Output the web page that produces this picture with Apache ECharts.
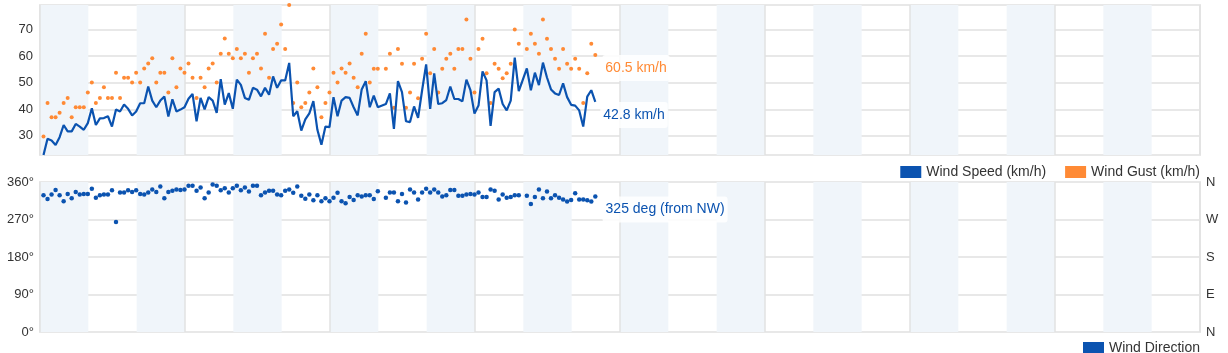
<!DOCTYPE html>
<html>
<head>
<meta charset="utf-8">
<script src="https://cdn.jsdelivr.net/npm/echarts@6/dist/echarts.min.js"></script>
<style>
  html, body { margin: 0; padding: 0; background: #fff; }
  #chart { width: 1228px; height: 353px; }
</style>
</head>
<body>
<div id="chart"></div>
<script>
// Wind readings every 40 minutes over the first part of an 8-day window.
// Gaps (null) are missing readings; the speed line bridges them.
const SPEED = [
  22.8, 28.9, 28.3, 26.6, 29.5, 34.1, 31.7, 31.7, 34.5, 33.5,
  32.3, 34.8, 40.4, 34.1, 36.6, 36.7, 37.4, 33.5, 39.9, 39.2,
  41.8, 40.2, 37.7, 39.2, 42.3, 42.3, 48.6, 43.3, 40.8, 43.3,
  44.8, 37.3, 43.8, 39.2, 39.9, 40.8, 44.0, 45.8, 35.5, 44.3,
  40.0, 44.6, 43.3, 38.7, 51.4, 41.8, 46.1, 40.2, 51.2, 49.2,
  44.3, 43.6, 48.1, 47.4, 44.9, 48.1, 45.5, 52.4, 48.1, 50.9,
  50.9, 57.5, 37.4, 39.3, 32.0, 36.2, 38.5, 43.1, 32.3, 26.7,
  33.5, 33.3, 44.6, 37.4, 43.3, 44.6, 44.3, 40.8, 37.7, 47.5,
  50.6, 40.8, 45.2, 40.8, null, 42.0, 46.0, 32.6, 50.6, 46.5,
  35.5, 35.2, 41.1, 36.8, 47.2, 56.9, 40.2, 53.5, 42.0, 42.3,
  43.5, 48.6, 43.9, 43.9, 43.0, 51.2, 47.2, 38.4, 41.4, 54.3,
  50.9, 33.8, 46.5, 47.8, 42.0, 39.6, 43.3, 59.5, 46.9, null,
  55.4, 47.2, 53.8, 49.1, 57.6, 52.0, 47.5, 46.0, 45.4, 49.8,
  44.6, 41.7, 41.4, 39.6, 33.5, 44.8, 47.2, 42.8
];
const GUST = [
  29.8, 42.4, 37.0, 37.0, 38.7, 42.4, 44.3, 37.0, 40.8, 40.8,
  40.8, 46.3, 50.1, 42.4, 44.3, 48.3, 44.3, 44.3, 53.8, 44.3,
  51.9, 51.9, 50.1, 53.8, 50.1, 55.4, 57.3, 59.2, 50.1, 53.8,
  53.8, 46.3, 59.2, 48.3, 55.4, 53.8, 57.3, 51.9, 44.3, 51.9,
  48.3, 55.4, 57.3, 50.1, 60.9, 66.7, 60.9, 59.2, 62.7, 59.2,
  60.9, 53.8, 59.2, 60.9, 55.4, 68.5, 51.9, 62.7, 64.7, 72.0,
  62.7, 79.3, 42.4, 50.1, 40.8, 42.4, 46.3, 55.4, 48.3, 37.0,
  42.4, 46.3, 53.8, 50.1, 55.4, 53.8, 57.3, 51.9, 48.3, 60.9,
  68.5, 50.1, 55.3, 55.3, null, 55.3, 60.9, 40.6, 62.7, 57.2,
  40.6, 46.3, 57.2, 44.2, 59.1, 68.5, 53.6, 62.7, 46.3, 55.3,
  59.1, 60.9, 55.3, 62.7, 62.7, 73.8, 59.1, 46.3, 62.7, 66.6,
  53.6, 42.4, 57.2, 55.3, 51.7, 53.6, 57.2, 70.1, 64.7, null,
  62.7, 68.5, 64.7, 60.9, 73.8, 66.6, 62.7, 59.1, 55.3, 62.7,
  57.2, 55.3, 59.1, 55.3, 42.4, 53.6, 64.7, 60.5
];
const DIRECTION = [
  328, 319, 330, 341, 328, 314, 331, 321, 336, 330,
  331, 331, 344, 322, 328, 330, 330, 340, 264, 335,
  335, 340, 336, 340, 331, 330, 335, 342, 336, 349,
  321, 336, 339, 342, 341, 342, 351, 351, 339, 347,
  321, 335, 354, 351, 340, 345, 335, 345, 351, 340,
  347, 337, 351, 351, 328, 335, 339, 339, 330, 328,
  339, 342, 334, 349, 327, 320, 330, 316, 328, 314,
  321, 314, 322, 334, 314, 309, 324, 317, 328, 325,
  328, 328, 319, 338, null, 322, 335, 335, 314, 331,
  311, 342, 335, 318, 335, 344, 335, 342, 335, 325,
  328, 341, 341, 327, 327, 330, 331, 330, 335, 324,
  324, 342, 339, 318, 330, 322, 324, 328, 328, null,
  327, 307, 324, 342, 321, 337, 321, 328, 322, 318,
  313, 317, 333, 318, 318, 316, 313, 325
];
const DIR_TICKS = [0, 90, 180, 270, 360];
const COMPASS_TICKS = ['N', 'E', 'S', 'W', 'N'];
const COMPASS_8 = ['N', 'NE', 'E', 'SE', 'S', 'SW', 'W', 'NW'];

// Time axis in hours: 8 days, shaded every 8 h, a rule every day.
const DAYS = 8;
const FIRST_HOUR = 0.58;
const STEP_HOURS = 40 / 60;

const BLUE = '#0b53b0';
const ORANGE = '#ff8a35';
const BAND = '#f0f5fa';
const GRID = '#e8e8e8';
const TEXT = '#333';
const FONT = '"Liberation Sans", Arial, sans-serif';

const hourOf = (i) => FIRST_HOUR + i * STEP_HOURS;
const pts = (arr) => arr.map((v, i) => [hourOf(i), v == null ? '-' : v]);

const boxLabel = (color) => ({
  show: true,
  position: 'right',
  distance: 5,
  offset: [0, 13],
  color,
  fontSize: 14,
  fontFamily: FONT,
  backgroundColor: 'rgba(255,255,255,0.85)',
  borderRadius: 3,
  padding: [6, 3],
});

const withLastLabel = (data, label) =>
  data.map((d, i) => (i === data.length - 1 ? { value: d, label } : d));

const lastSpeed = SPEED[SPEED.length - 1];
const lastGust = GUST[GUST.length - 1];
const lastDir = DIRECTION[DIRECTION.length - 1];
const dirName = COMPASS_8[Math.round(lastDir / 45) % 8];

const timeAxes = (gridIndex) => [
  {
    gridIndex, type: 'value', min: 0, max: DAYS * 24, interval: 8,
    axisLabel: { show: false }, axisTick: { show: false }, axisLine: { show: false },
    splitLine: { show: false },
    splitArea: { show: true, areaStyle: { color: [BAND, 'rgba(255,255,255,0)'] } },
  },
  {
    gridIndex, type: 'value', position: 'top', min: 0, max: DAYS * 24, interval: 24,
    axisLabel: { show: false }, axisTick: { show: false }, axisLine: { show: false },
    splitLine: { show: true, lineStyle: { color: '#e2e2e2', width: 1.5 } },
  },
];

const chart = echarts.init(document.getElementById('chart'));
chart.setOption({
  animation: false,
  textStyle: { fontFamily: FONT },
  grid: [
    { left: 40, right: 28, top: 5, height: 150, show: true, borderColor: GRID, borderWidth: 2 },
    { left: 40, right: 28, top: 182, height: 150, show: true, borderColor: GRID, borderWidth: 2 },
  ],
  legend: [
    {
      data: ['Wind Speed (km/h)', 'Wind Gust (km/h)'],
      right: 28, top: 165, padding: 0, icon: 'rect', itemWidth: 21, itemHeight: 12, itemGap: 19,
      textStyle: { color: TEXT, fontSize: 14, fontFamily: FONT },
    },
    {
      data: ['Wind Direction'],
      right: 28, top: 341, padding: 0, icon: 'rect', itemWidth: 21, itemHeight: 12,
      textStyle: { color: TEXT, fontSize: 14, fontFamily: FONT },
    },
  ],
  xAxis: [...timeAxes(0), ...timeAxes(1)],
  yAxis: [
    {
      gridIndex: 0, type: 'value', min: 22.8, max: 79.3,
      axisLine: { show: false }, axisTick: { show: false },
      axisLabel: { color: TEXT, fontSize: 13, margin: 7, showMinLabel: false, showMaxLabel: false },
      splitLine: { lineStyle: { color: GRID, width: 2 } },
    },
    {
      gridIndex: 1, type: 'value', min: DIR_TICKS[0], max: DIR_TICKS[DIR_TICKS.length - 1], interval: 90,
      axisLine: { show: false }, axisTick: { show: false },
      axisLabel: { color: TEXT, fontSize: 13, margin: 6, formatter: (v) => v + '°' },
      splitLine: { lineStyle: { color: GRID, width: 2 } },
    },
    {
      gridIndex: 1, type: 'value', position: 'right', min: DIR_TICKS[0], max: DIR_TICKS[DIR_TICKS.length - 1], interval: 90,
      axisLine: { show: false }, axisTick: { show: false }, splitLine: { show: false },
      axisLabel: {
        color: TEXT, fontSize: 13, margin: 6,
        formatter: (v) => COMPASS_TICKS[DIR_TICKS.indexOf(v)] ?? '',
      },
    },
  ],
  series: [
    {
      name: 'Wind Speed (km/h)', type: 'line', xAxisIndex: 0, yAxisIndex: 0,
      data: pts(SPEED), connectNulls: true, showSymbol: false, symbol: 'none',
      lineStyle: { color: BLUE, width: 2.2 }, itemStyle: { color: BLUE }, z: 3,
      endLabel: { ...boxLabel(BLUE), formatter: () => lastSpeed.toFixed(1) + ' km/h' },
    },
    {
      name: 'Wind Gust (km/h)', type: 'scatter', xAxisIndex: 0, yAxisIndex: 0,
      data: withLastLabel(pts(GUST), { ...boxLabel(ORANGE), formatter: () => lastGust.toFixed(1) + ' km/h' }),
      symbolSize: 4, itemStyle: { color: ORANGE, opacity: 1 }, z: 2,
    },
    {
      name: 'Wind Direction', type: 'scatter', xAxisIndex: 2, yAxisIndex: 1,
      data: withLastLabel(pts(DIRECTION), { ...boxLabel(BLUE), formatter: () => `${lastDir} deg (from ${dirName})` }),
      symbolSize: 4.5, itemStyle: { color: BLUE, opacity: 1 },
    },
  ],
});
</script>
</body>
</html>
